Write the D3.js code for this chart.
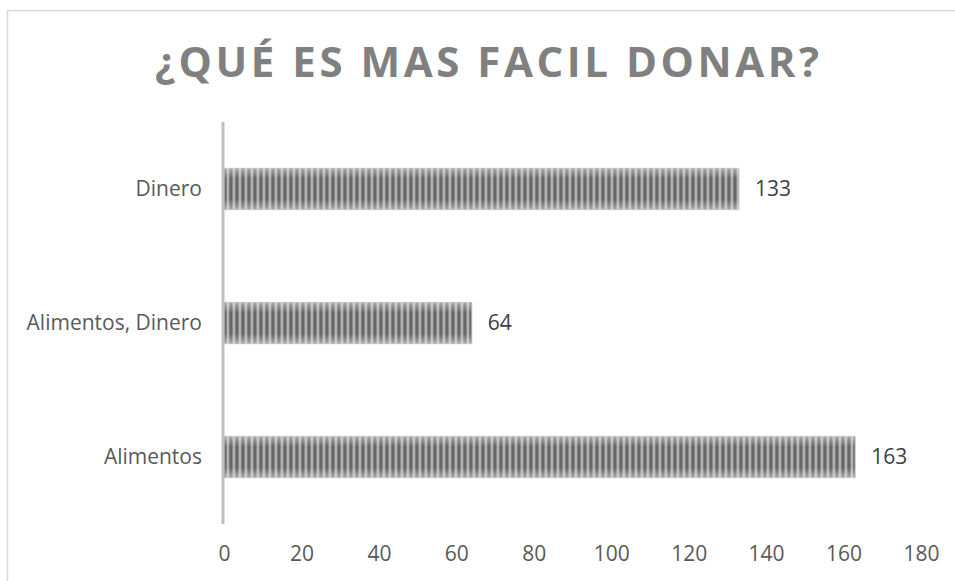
<!DOCTYPE html>
<html>
<head>
<meta charset="utf-8">
<script src="https://cdn.jsdelivr.net/npm/d3@7"></script>
<style>
  body { margin: 0; background: #fff; }
  text { font-family: "Open Sans", sans-serif; }
</style>
</head>
<body>
<div id="wrapper"></div>
<script>
const categories = ["Dinero", "Alimentos, Dinero", "Alimentos"]
const values = [133, 64, 163]
const xTicks = [0, 20, 40, 60, 80, 100, 120, 140, 160, 180]
const title = "¿QUÉ ES MAS FACIL DONAR?"

const dimensions = {
  width: 955,
  height: 581,
  margin: { top: 122, right: 34, bottom: 57, left: 224 }
}
dimensions.boundedWidth = dimensions.width - dimensions.margin.left - dimensions.margin.right
dimensions.boundedHeight = dimensions.height - dimensions.margin.top - dimensions.margin.bottom

const data = categories.map((c, i) => ({ category: c, value: values[i] }))

const xScale = d3.scaleLinear().domain([0, 180]).range([0, dimensions.boundedWidth])
const yScale = d3.scaleBand().domain(categories).range([0, dimensions.boundedHeight]).paddingInner(0.69).paddingOuter(0.345)

const svg = d3.select("#wrapper").append("svg")
  .attr("width", dimensions.width)
  .attr("height", dimensions.height)

// stripe fill like the office pattern
const defs = svg.append("defs")
const pattern = defs.append("pattern")
  .attr("id", "stripes")
  .attr("patternUnits", "userSpaceOnUse")
  .attr("width", 6).attr("height", 10)
pattern.append("rect").attr("width", 6).attr("height", 10).attr("fill", "#666")
pattern.append("rect").attr("x", 2.5).attr("width", 1).attr("height", 10).attr("fill", "#a8a8a8")
pattern.append("rect").attr("x", 3.5).attr("width", 1.2).attr("height", 10).attr("fill", "#dedede")
pattern.append("rect").attr("x", 4.7).attr("width", 0.8).attr("height", 10).attr("fill", "#969696")

const shade = defs.append("linearGradient").attr("id", "shade").attr("x1", 0).attr("x2", 0).attr("y1", 0).attr("y2", 1)
shade.append("stop").attr("offset", "0%").attr("stop-color", "#fff").attr("stop-opacity", 0.45)
shade.append("stop").attr("offset", "25%").attr("stop-color", "#fff").attr("stop-opacity", 0)
shade.append("stop").attr("offset", "75%").attr("stop-color", "#fff").attr("stop-opacity", 0)
shade.append("stop").attr("offset", "100%").attr("stop-color", "#fff").attr("stop-opacity", 0.45)

// chart border
svg.append("rect")
  .attr("x", 7.5).attr("y", 10.5)
  .attr("width", 960).attr("height", 600)
  .attr("fill", "none")
  .attr("stroke", "#d9d9d9")
  .attr("stroke-width", 1.5)

svg.append("text")
  .attr("x", 487).attr("y", 77)
  .attr("text-anchor", "middle")
  .attr("fill", "#808080")
  .attr("font-size", 42)
  .attr("font-weight", 700)
  .attr("textLength", 664)
  .attr("lengthAdjust", "spacing")
  .text(title)

const bounds = svg.append("g")
  .attr("transform", `translate(${dimensions.margin.left}, ${dimensions.margin.top})`)

bounds.selectAll("rect.bar").data(data).join("rect")
  .attr("class", "bar")
  .attr("x", 0)
  .attr("y", d => yScale(d.category))
  .attr("width", d => xScale(d.value))
  .attr("height", yScale.bandwidth())
  .attr("fill", "url(#stripes)")

bounds.selectAll("rect.shade").data(data).join("rect")
  .attr("class", "shade")
  .attr("x", 0)
  .attr("y", d => yScale(d.category))
  .attr("width", d => xScale(d.value))
  .attr("height", yScale.bandwidth())
  .attr("fill", "url(#shade)")
  .attr("stroke", "#c8c8c8")
  .attr("stroke-width", 0.8)

bounds.selectAll("text.value").data(data).join("text")
  .attr("class", "value")
  .attr("x", d => xScale(d.value) + 16)
  .attr("y", d => yScale(d.category) + yScale.bandwidth() / 2)
  .attr("dy", "0.35em")
  .attr("fill", "#404040")
  .attr("font-size", 21)
  .text(d => d.value)

// category axis
const yAxis = d3.axisLeft(yScale).tickSize(0).tickPadding(22)
const yAxisG = bounds.append("g").call(yAxis)
yAxisG.select(".domain").attr("stroke", "#bfbfbf").attr("stroke-width", 3)
  .attr("d", `M-1,0V${dimensions.boundedHeight}`)
yAxisG.selectAll("text")
  .attr("fill", "#595959")
  .attr("font-size", 21)
  .style("font-family", "'Open Sans', sans-serif")

// value axis
const xAxis = d3.axisBottom(xScale).tickValues(xTicks).tickSize(0).tickPadding(22)
const xAxisG = bounds.append("g")
  .attr("transform", `translate(0, ${dimensions.boundedHeight})`)
  .call(xAxis)
xAxisG.select(".domain").remove()
xAxisG.selectAll("text")
  .attr("fill", "#595959")
  .attr("font-size", 21)
  .style("font-family", "'Open Sans', sans-serif")
</script>
</body>
</html>
